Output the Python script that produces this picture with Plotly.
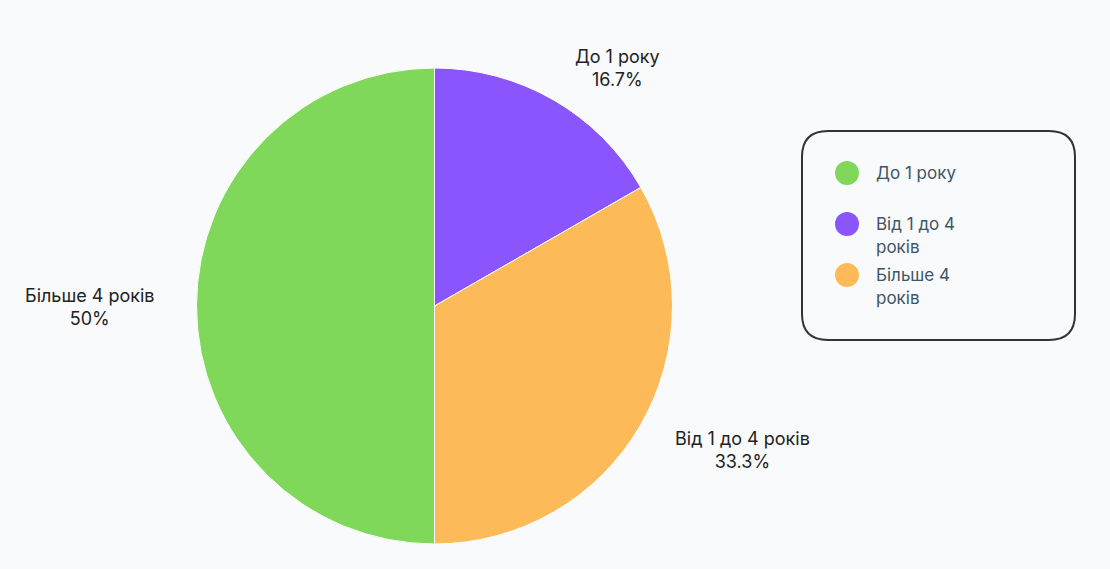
import math
import textwrap
import plotly.graph_objects as go

# ---- data ----
categories = ["До 1 року", "Від 1 до 4 років", "Більше 4 років"]
values = [16.7, 33.3, 50.0]
slice_colors = ["#8b55fd", "#fdba59", "#80d85b"]
legend_labels = ["До 1 року", "Від 1 до 4 років", "Більше 4 років"]
legend_colors = ["#80d85b", "#8b55fd", "#fdba59"]

W, H = 1110, 569
BG = "#f9fafc"
FONT = "Inter"
cx, cy, R = 434.5, 306.0, 238.0

fig = go.Figure()
fig.add_trace(go.Pie(
    labels=categories,
    values=values,
    sort=False,
    direction="clockwise",
    rotation=0,
    marker=dict(colors=slice_colors, line=dict(color="#ffffff", width=1)),
    textinfo="none",
    hoverinfo="label+percent",
    showlegend=False,
    domain=dict(x=[(cx - R) / W, (cx + R) / W], y=[1 - (cy + R) / H, 1 - (cy - R) / H]),
))

# outside labels positioned from slice mid-angles
total = sum(values)
start = 0.0
annotations = []
for lab, v in zip(categories, values):
    frac = v / total
    mid = (start + frac / 2) * 2 * math.pi
    start += frac
    s, c = math.sin(mid), math.cos(mid)
    r = R + 10
    px, py = cx + r * s, cy - r * c
    xanchor = "left" if s > 0.05 else ("right" if s < -0.05 else "center")
    if c > 0.5:
        yanchor = "bottom"
    elif c < -0.3:
        yanchor = "top"
    else:
        yanchor = "middle"
    if s > 0.05:
        xshift = 14 if c > 0.5 else 24
    else:
        xshift = -30
    yshift = -1 if c > 0.5 else (4 if c < -0.3 else -1)
    pct = v / total * 100
    pct_txt = f"{pct:.1f}".rstrip("0").rstrip(".") + "%"
    annotations.append(dict(
        x=px / W, y=1 - py / H, xref="paper", yref="paper",
        text=f"{lab}<br>{pct_txt}", showarrow=False, align="center",
        xanchor=xanchor, yanchor=yanchor, xshift=xshift, yshift=yshift,
        font=dict(family=FONT, size=18, color="#222222"),
    ))

# custom legend box
shapes = []
bx0, bx1, by0, by1, rr = 802, 1075, 131, 340, 26
path = (f"M {bx0+rr},{by0} L {bx1-rr},{by0} Q {bx1},{by0} {bx1},{by0+rr} "
        f"L {bx1},{by1-rr} Q {bx1},{by1} {bx1-rr},{by1} L {bx0+rr},{by1} "
        f"Q {bx0},{by1} {bx0},{by1-rr} L {bx0},{by0+rr} Q {bx0},{by0} {bx0+rr},{by0} Z")

def to_paper_path(p):
    out = []
    for tok in p.split(" "):
        if "," in tok:
            a, b = tok.split(",")
            out.append(f"{float(a)/W:.5f},{1-float(b)/H:.5f}")
        else:
            out.append(tok)
    return " ".join(out)

shapes.append(dict(type="path", xref="paper", yref="paper", path=to_paper_path(path),
                   line=dict(color="#333333", width=2), fillcolor="rgba(0,0,0,0)"))

item_y = [173, 224, 275]
mx, mr = 847, 12
tx = 874
for lab, col, yy in zip(legend_labels, legend_colors, item_y):
    shapes.append(dict(type="circle", xref="paper", yref="paper",
                       x0=(mx - mr) / W, x1=(mx + mr) / W,
                       y0=1 - (yy + mr) / H, y1=1 - (yy - mr) / H,
                       fillcolor=col, line=dict(width=0)))
    lines = textwrap.wrap(lab, width=10)
    for i, ln in enumerate(lines):
        annotations.append(dict(
            x=tx / W, y=1 - (yy + i * 23) / H, xref="paper", yref="paper",
            text=ln, showarrow=False, xanchor="left", yanchor="middle",
            font=dict(family=FONT, size=17, color="#3d5565"),
        ))

fig.update_layout(
    width=W, height=H,
    margin=dict(l=0, r=0, t=0, b=0),
    paper_bgcolor=BG, plot_bgcolor=BG,
    shapes=shapes, annotations=annotations,
    showlegend=False,
)

fig.write_html("out.html")
